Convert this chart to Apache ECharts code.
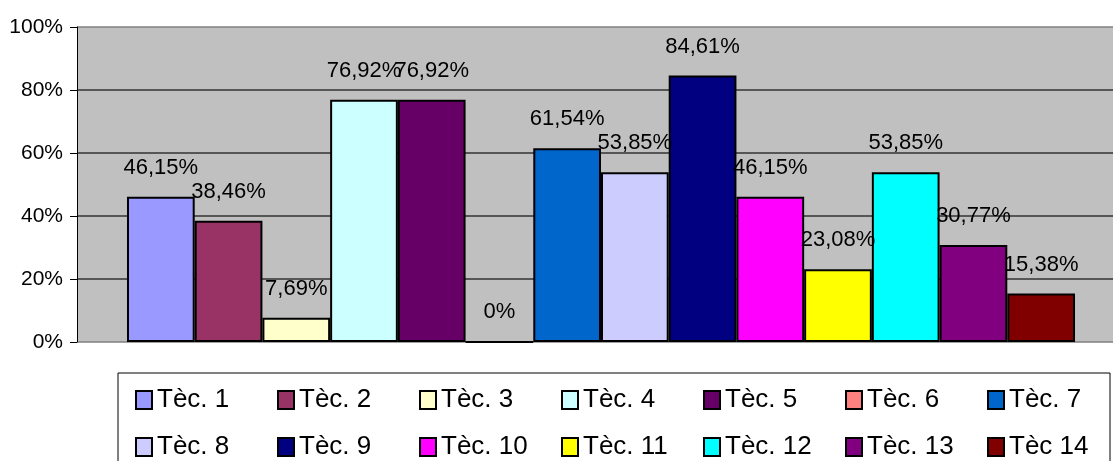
<!DOCTYPE html>
<html>
<head>
<meta charset="utf-8">
<script src="https://cdn.jsdelivr.net/npm/echarts@6/dist/echarts.min.js"></script>
<style>
html,body{margin:0;padding:0;background:#fff;}
#chart{width:1113px;height:461px;}
</style>
</head>
<body>
<div id="chart"></div>
<script>
const seriesNames = ['Tèc. 1','Tèc. 2','Tèc. 3','Tèc. 4','Tèc. 5','Tèc. 6','Tèc. 7','Tèc. 8','Tèc. 9','Tèc. 10','Tèc. 11','Tèc. 12','Tèc. 13','Tèc 14'];
const seriesValues = [46.15, 38.46, 7.69, 76.92, 76.92, 0, 61.54, 53.85, 84.61, 46.15, 23.08, 53.85, 30.77, 15.38];
const seriesColors = ['#9999ff','#993366','#ffffcc','#ccffff','#660066','#ff8080','#0066cc','#ccccff','#000080','#ff00ff','#ffff00','#00ffff','#800080','#800000'];
const categories = [''];
const yTicks = [0, 20, 40, 60, 80, 100];

const FONT = "'Liberation Sans', Arial, sans-serif";

function fmt(v) {
  if (v === 0) return '0%';
  return v.toFixed(2).replace('.', ',') + '%';
}

const chart = echarts.init(document.getElementById('chart'), null, {renderer: 'canvas'});
const series = seriesNames.map((name, i) => ({
  name: name,
  type: 'bar',
  data: [seriesValues[i]],
  barGap: '0%',
  barCategoryGap: '9.54%',
  itemStyle: {color: seriesColors[i], borderColor: '#000', borderWidth: 2},
  label: {
    show: true,
    position: 'top',
    distance: 18,
    color: '#000',
    fontFamily: FONT,
    fontSize: 22,
    formatter: p => fmt(p.value)
  }
}));

chart.setOption({
  animation: false,
  backgroundColor: '#fff',
  grid: {
    left: 77, top: 27, bottom: 119, width: 1048,
    outerBoundsMode: 'none',
    containLabel: false,
    show: true, backgroundColor: '#c0c0c0', borderWidth: 0
  },
  xAxis: {
    type: 'category',
    data: categories,
    axisLine: {show: false},
    axisTick: {show: false},
    axisLabel: {show: false},
    splitLine: {show: false}
  },
  yAxis: {
    type: 'value',
    min: yTicks[0],
    max: yTicks[yTicks.length - 1],
    interval: 20,
    axisLine: {show: true, lineStyle: {color: '#000', width: 1}},
    axisTick: {show: true, length: 7, lineStyle: {color: '#000'}},
    axisLabel: {
      formatter: '{value}%',
      color: '#000',
      fontFamily: FONT,
      fontSize: 21,
      margin: 14
    },
    splitLine: {
      show: true,
      lineStyle: {color: ['#808080', '#333', '#333', '#333', '#333', '#808080'], width: 1.5}
    }
  },
  legend: {
    left: 118,
    top: 373,
    width: 987,
    orient: 'horizontal',
    padding: [13.5, 1, 12, 17],
    itemGap: 20,
    itemWidth: 16,
    itemHeight: 18,
    borderColor: '#000',
    borderWidth: 1,
    icon: 'rect',
    itemStyle: {borderColor: '#000', borderWidth: 2},
    formatter: name => '{a|' + name + '}',
    textStyle: {
      color: '#000',
      fontFamily: FONT,
      fontSize: 26,
      lineHeight: 27,
      rich: {
        a: {width: 100, fontSize: 26, lineHeight: 27, fontFamily: FONT, color: '#000'}
      }
    },
    data: seriesNames
  },
  series: series
});
</script>
</body>
</html>
